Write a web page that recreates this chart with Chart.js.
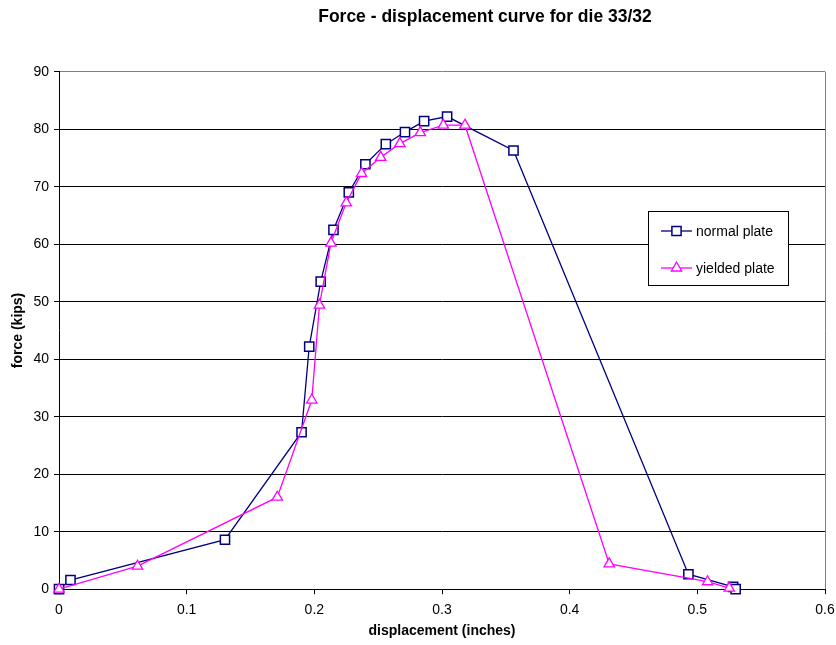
<!DOCTYPE html>
<html>
<head>
<meta charset="utf-8">
<title>Force - displacement curve for die 33/32</title>
<script src="https://cdn.jsdelivr.net/npm/chart.js@4/dist/chart.umd.min.js"></script>
<style>
  html, body { margin: 0; padding: 0; background: #fff; }
  canvas { display: block; }
</style>
</head>
<body>
<canvas id="forceChart" width="836" height="645"></canvas>
<script>
// displacement (inches) and force (kips) per plate
const seriesNames = ['normal plate', 'yielded plate'];
const normalDisp = [0, 0.009, 0.130, 0.190, 0.196, 0.205, 0.215, 0.227, 0.240, 0.256, 0.271, 0.286, 0.304, 0.356, 0.493, 0.528, 0.530];
const normalForce = [0, 1.6, 8.6, 27.3, 42.2, 53.5, 62.5, 69.0, 73.9, 77.4, 79.5, 81.4, 82.2, 76.3, 2.6, 0.4, 0];
const yieldDisp = [0, 0.0615, 0.171, 0.198, 0.204, 0.213, 0.225, 0.237, 0.252, 0.267, 0.283, 0.301, 0.318, 0.431, 0.508, 0.525];
const yieldForce = [0, 4.0, 16.0, 32.9, 49.4, 60.2, 67.2, 72.3, 75.1, 77.5, 79.4, 80.7, 80.7, 4.4, 1.3, 0.2];
const xTickLabels = ['0', '0.1', '0.2', '0.3', '0.4', '0.5', '0.6'];
const yTickLabels = ['0', '10', '20', '30', '40', '50', '60', '70', '80', '90'];

const chartTitle = 'Force - displacement curve for die 33/32';
const FONT = "'Liberation Sans', Arial, sans-serif";
Chart.defaults.font.family = FONT;
Chart.defaults.color = '#000';

function toPoints(xs, ys) {
  return xs.map((x, i) => ({ x: x, y: ys[i] }));
}

// title drawn above the plot
const titlePlugin = {
  id: 'plotTitle',
  afterDraw(chart) {
    const ctx = chart.ctx;
    ctx.save();
    ctx.font = 'bold 17.5px ' + FONT;
    ctx.fillStyle = '#000';
    ctx.textAlign = 'center';
    ctx.textBaseline = 'middle';
    ctx.fillText(chartTitle, 485, 17);
    ctx.restore();
  }
};

// boxed legend sitting inside the plot area
const boxLegend = {
  id: 'boxLegend',
  afterDraw(chart) {
    const ctx = chart.ctx;
    const bx = 648, by = 211, bw = 140, bh = 74;
    ctx.save();
    ctx.fillStyle = '#fff';
    ctx.fillRect(bx, by, bw, bh);
    ctx.strokeStyle = '#000';
    ctx.lineWidth = 1;
    ctx.strokeRect(bx + 0.5, by + 0.5, bw, bh);
    chart.data.datasets.forEach((ds, i) => {
      const y = 231 + i * 37;
      ctx.strokeStyle = ds.borderColor;
      ctx.lineWidth = ds.borderWidth;
      ctx.beginPath();
      ctx.moveTo(661, y);
      ctx.lineTo(692, y);
      ctx.stroke();
      ctx.fillStyle = ds.pointBackgroundColor;
      ctx.strokeStyle = ds.pointBorderColor;
      ctx.lineWidth = ds.pointBorderWidth;
      Chart.helpers.drawPoint(ctx, {
        pointStyle: ds.pointStyle,
        radius: ds.pointRadius,
        rotation: 0,
        borderWidth: ds.pointBorderWidth
      }, 676.5, y);
      ctx.fillStyle = '#000';
      ctx.font = '14px ' + FONT;
      ctx.textAlign = 'left';
      ctx.textBaseline = 'middle';
      ctx.fillText(ds.label, 696, y + 1);
    });
    ctx.restore();
  }
};

new Chart(document.getElementById('forceChart').getContext('2d'), {
  type: 'scatter',
  data: {
    datasets: [
      {
        label: seriesNames[0],
        data: toPoints(normalDisp, normalForce),
        showLine: true,
        borderColor: '#000080',
        borderWidth: 1.3,
        pointStyle: 'rect',
        pointRadius: 6.5,
        pointBorderWidth: 1.5,
        pointBorderColor: '#000080',
        pointBackgroundColor: '#fff',
        order: 1,
        clip: false
      },
      {
        label: seriesNames[1],
        data: toPoints(yieldDisp, yieldForce),
        showLine: true,
        borderColor: '#ff00ff',
        borderWidth: 1.3,
        pointStyle: 'triangle',
        pointRadius: 6,
        pointBorderWidth: 1.3,
        pointBorderColor: '#ff00ff',
        pointBackgroundColor: '#fff',
        order: 0,
        clip: false
      }
    ]
  },
  options: {
    responsive: false,
    animation: false,
    layout: { padding: { top: 71.7, right: 0, left: 0, bottom: 0 } },
    plugins: {
      legend: { display: false },
      tooltip: { enabled: false }
    },
    scales: {
      x: {
        type: 'linear',
        min: 0,
        max: 0.6,
        afterFit(scale) {
          scale.height = 55.8;
          scale.paddingLeft = 0;
          scale.paddingRight = 11;
        },
        afterBuildTicks(scale) {
          scale.ticks = xTickLabels.map(t => ({ value: parseFloat(t) }));
        },
        ticks: {
          padding: 8,
          maxRotation: 0,
          font: { size: 14 },
          callback: (v, i) => xTickLabels[i]
        },
        grid: {
          drawOnChartArea: true,
          color: ctx => (ctx.index === xTickLabels.length - 1 ? '#808080' : 'rgba(0,0,0,0)'),
          tickColor: '#000',
          tickLength: 5,
          lineWidth: 1
        },
        border: { color: '#000', width: 1 },
        title: {
          display: true,
          text: 'displacement (inches)',
          font: { size: 14, weight: 'bold' },
          padding: { top: 0, bottom: 5.6 }
        }
      },
      y: {
        type: 'linear',
        min: 0,
        max: 90,
        afterFit(scale) { scale.width = 59; },
        afterBuildTicks(scale) {
          scale.ticks = yTickLabels.map(t => ({ value: parseFloat(t) }));
        },
        ticks: {
          padding: 5,
          font: { size: 14 },
          callback: (v, i) => yTickLabels[i]
        },
        grid: {
          color: ctx => (ctx.index === yTickLabels.length - 1 ? '#808080' : '#000'),
          tickColor: '#000',
          tickLength: 5,
          lineWidth: 1
        },
        border: { color: '#000', width: 1 },
        title: {
          display: true,
          text: 'force (kips)',
          font: { size: 14, weight: 'bold' },
          padding: { top: 10, bottom: 0 }
        }
      }
    }
  },
  plugins: [titlePlugin, boxLegend]
});
</script>
</body>
</html>
